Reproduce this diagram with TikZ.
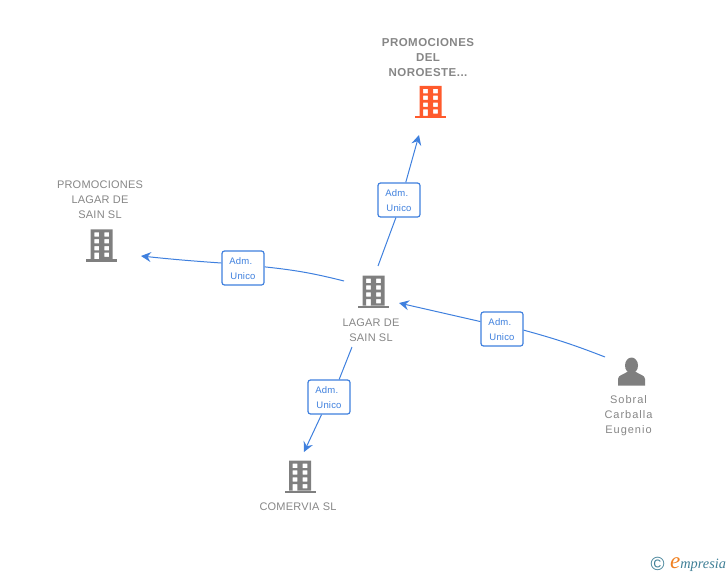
\documentclass[tikz,border=0pt]{standalone}
\usepackage{fontspec}
\setmainfont{Liberation Sans}
\newfontfamily\logofont{Liberation Serif}
\usetikzlibrary{arrows.meta}
\definecolor{linkblue}{HTML}{3F80DE}
\definecolor{icongrey}{HTML}{7F7F7F}
\definecolor{textgrey}{HTML}{868686}
\definecolor{iconred}{HTML}{FF5A2C}
\definecolor{logoteal}{HTML}{3F7F96}
\definecolor{logoorange}{HTML}{F08020}
\newcommand{\admtext}{\rule{0pt}{8.5pt}\hspace{-1pt}Adm.\\Unico}
\tikzset{l/.style={font=\addfontfeature{LetterSpace=2}\fontsize{11}{15}\selectfont,text=textgrey,align=center,inner sep=0pt}}
\tikzset{b/.style={font=\addfontfeature{LetterSpace=4}\fontsize{11.5}{15}\selectfont\bfseries,text=textgrey,align=center,inner sep=0pt}}
\tikzset{p/.style={font=\addfontfeature{LetterSpace=9}\fontsize{11}{15}\selectfont,text=textgrey,align=center,inner sep=0pt}}
\tikzset{adm/.style={draw=linkblue,fill=white,rounded corners=2.5pt,line width=1.2pt,minimum width=42pt,minimum height=34pt,inner sep=0pt,align=left,text=linkblue,font=\addfontfeature{LetterSpace=2}\fontsize{9.5}{15}\selectfont}}
\tikzset{link/.style={draw=linkblue,line width=1pt}}
\tikzset{tip/.style={link,-{Stealth[length=10pt,width=10pt,inset=3.5pt]}}}
\tikzset{building/.pic={
  \fill[pic actions,even odd rule] (-11,-16) rectangle (11,14)
    (-7.3,-13) rectangle (-2.7,-8.7) (2.7,-13) rectangle (7.3,-8.7)
    (-7.3,-6.3) rectangle (-2.7,-2) (2.7,-6.3) rectangle (7.3,-2)
    (-7.3,0.7) rectangle (-2.7,5) (2.7,0.7) rectangle (7.3,5)
    (-7.3,7.3) rectangle (-2.7,14) (2.7,7.3) rectangle (7.3,11.6);
  \fill[pic actions] (-15.5,14) rectangle (15.5,16.5);
}}
\begin{document}
\begin{tikzpicture}[x=1pt,y=-1pt]
  \useasboundingbox (0,0) rectangle (728,575);
  % companies
  \pic[fill=iconred] (noroeste) at (430.5,102) {building};
  \pic[fill=icongrey] (promo) at (101.7,245.3) {building};
  \pic[fill=icongrey] (lagar) at (373.5,291.7) {building};
  \pic[fill=icongrey] (comervia) at (300,476.7) {building};
  % person
  \fill[icongrey] (631.5,365.5) ellipse (6.5 and 8);
  \fill[icongrey] (618,385.5) -- (618,379) .. controls (618,375) and (624,374.5) .. (627,372)
    -- (636,372) .. controls (639,374.5) and (645,375) .. (645,379) -- (645,385.5) -- cycle;
  % texts
  \node (noroesteL) [b] at (428,57.5) {PROMOCIONES\\DEL\\NOROESTE...};
  \node (promoL) [l] at (100,200) {PROMOCIONES\\LAGAR DE\\SAIN SL};
  \node (lagarL) [l] at (371,330) {LAGAR DE\\SAIN SL};
  \node (comerviaL) [l] at (298,506.5) {COMERVIA SL};
  \node (sobralL) [p] at (628.5,415.5) {Sobral\\Carballa\\Eugenio};
  % connector ends
  \coordinate (a1) at (378,266);
  \coordinate (a2) at (419,135);
  \coordinate (c1) at (344,281);
  \coordinate (c2) at (141,256);
  \coordinate (d1) at (605,357);
  \coordinate (d2) at (399,303);
  \coordinate (e1) at (352,347);
  \coordinate (e2) at (304,452);
  % adm boxes
  \node (admA) [adm] at (399,200) {\admtext};
  \node (admC) [adm] at (243,268) {\admtext};
  \node (admD) [adm] at (502,329) {\admtext};
  \node (admE) [adm] at (329,397) {\admtext};
  \draw[link] (a1) -- (admA.-100);
  \draw[tip] (admA.69) -- (a2);
  \draw[link] (c1) to[bend right=4] (admC.3.5);
  \draw[tip] (admC.167) to[bend left=1] (c2);
  \draw[link] (d1) to[bend right=3] (admD.-3);
  \draw[tip] (admD.161) -- (d2);
  \draw[link] (e1) -- (admE.60);
  \draw[tip] (admE.-113) -- (e2);
  % logo
  \node (copyL) [inner sep=0pt,text=logoteal,font=\fontsize{19}{19}\selectfont] at (657.5,564) {\char"00A9};
  \node (logoL) [inner sep=0pt,anchor=west,text=logoteal,font=\logofont\itshape\fontsize{14.3}{15}\selectfont] at (670,565) {{\color{logoorange}\fontsize{23}{23}\selectfont e}mpresia};
\end{tikzpicture}
\end{document}
